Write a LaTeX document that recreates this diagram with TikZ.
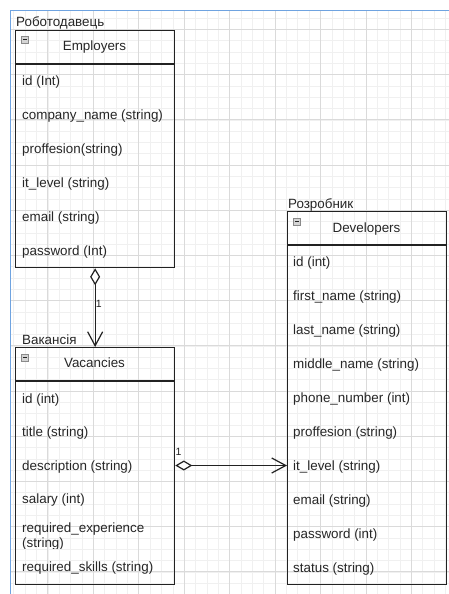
\documentclass[tikz,border=0pt]{standalone}
\usepackage{fontspec}
\setmainfont{Liberation Sans}
\usetikzlibrary{arrows.meta}
\definecolor{linec}{HTML}{222222}
\definecolor{txtc}{HTML}{262626}
\definecolor{gridmajor}{HTML}{DADADA}
\definecolor{gridminor}{HTML}{F0F0F0}
\definecolor{pageblue}{HTML}{6FA3E0}
\definecolor{iconfill}{HTML}{D4D4D4}
\definecolor{icondraw}{HTML}{8A8A8A}
\tikzset{
  tablebox/.style={draw=linec, line width=1.3pt, rectangle, inner sep=0pt, anchor=north west},
  sepline/.style={draw=linec, line width=1.1pt},
  rowtext/.style={anchor=base west, inner sep=0pt, text height=9pt, text depth=0pt, text=txtc, font=\fontsize{13.4}{15}\selectfont},
  titletext/.style={anchor=base, inner sep=0pt, text=txtc, font=\fontsize{13.4}{15}\selectfont},
  tlabel/.style={anchor=base west, inner sep=0pt, text=txtc, font=\fontsize{13.4}{15}\selectfont},
  mult/.style={inner sep=0pt, text=txtc, font=\fontsize{10.5}{12}\selectfont},
  icon/.style={draw=icondraw, fill=iconfill, line width=0.6pt, minimum size=7pt, inner sep=0pt, anchor=north west,
    path picture={\draw[linec, line width=1pt] ([xshift=1.6pt]path picture bounding box.west) -- ([xshift=-1.6pt]path picture bounding box.east);}},
  agg/.style={draw=linec, line width=1.2pt,
    {Diamond[open, fill=white, length=17pt, width=10pt]}-{Straight Barb[length=14pt, width=15pt]}},
  minorgrid/.style={draw=gridminor, line width=0.8pt},
  majorgrid/.style={draw=gridmajor, line width=1pt},
}
\begin{document}
\begin{tikzpicture}[x=1pt,y=-1pt]
\useasboundingbox (0,0) rectangle (449,594);
\fill[white] (0,0) rectangle (449,594);
% grid
\foreach \i in {1,...,39} {
  \pgfmathsetmacro\xx{2.5+11.36*\i}
  \draw[minorgrid] (\xx,10.5) -- (\xx,594);
}
\foreach \i in {-1,...,50} {
  \pgfmathsetmacro\yy{29.5+11.3*\i}
  \draw[minorgrid] (10.5,\yy) -- (449,\yy);
}
\foreach \i in {4,8,...,36} {
  \pgfmathsetmacro\xx{2.5+11.36*\i}
  \draw[majorgrid] (\xx,10.5) -- (\xx,594);
}
\foreach \i in {0,4,...,48} {
  \pgfmathsetmacro\yy{29.5+11.3*\i}
  \draw[majorgrid] (10.5,\yy) -- (449,\yy);
}
% page border
\draw[pageblue, line width=1.6pt] (10.5,594) -- (10.5,10.5) -- (449,10.5);

% ---------- Employers ----------
\node[tlabel] (empL) at (16,27) {Роботодавець};
\node[tablebox, minimum width=159pt, minimum height=237pt] (emp) at (15,30) {};
\draw[sepline] ([yshift=-34pt]emp.north west) -- ([yshift=-34pt]emp.north east);
\node[icon] (empI) at ([xshift=6pt,yshift=-6pt]emp.north west) {};
\node[titletext] (empT) at (94.5,50.5) {Employers};
\node[rowtext] (e1) at (22,85.5) {id (Int)};
\node[rowtext] (e2) at (22,119.5) {company\_name (string)};
\node[rowtext] (e3) at (22,153) {proffesion(string)};
\node[rowtext] (e4) at (22,187) {it\_level (string)};
\node[rowtext] (e5) at (22,221) {email (string)};
\node[rowtext] (e6) at (22,255) {password (Int)};

% ---------- Vacancies ----------
\node[tlabel] (vacL) at (22,344) {Вакансія};
\node[tablebox, minimum width=159pt, minimum height=237pt] (vac) at (15,347) {};
\draw[sepline] ([yshift=-34pt]vac.north west) -- ([yshift=-34pt]vac.north east);
\node[icon] (vacI) at ([xshift=6pt,yshift=-7pt]vac.north west) {};
\node[titletext] (vacT) at (94.5,367.5) {Vacancies};
\node[rowtext] (v1) at (22,403) {id (int)};
\node[rowtext] (v2) at (22,436.5) {title (string)};
\node[rowtext] (v3) at (22,470) {description (string)};
\node[rowtext] (v4) at (22,503.5) {salary (int)};
\node[rowtext] (v5) at (22,532) {required\_experience};
\begin{scope}
  \clip (16,536) rectangle (173,548.5);
  \node[rowtext] (v5b) at (22,547) {(string)};
\end{scope}
\node[rowtext] (v6) at (22,571.5) {required\_skills (string)};

% ---------- Developers ----------
\node[tlabel] (devL) at (288,208.5) {Розробник};
\node[tablebox, minimum width=159pt, minimum height=373pt] (dev) at (287,211) {};
\draw[sepline] ([yshift=-34pt]dev.north west) -- ([yshift=-34pt]dev.north east);
\node[icon] (devI) at ([xshift=6pt,yshift=-7pt]dev.north west) {};
\node[titletext] (devT) at (366.5,232) {Developers};
\node[rowtext] (d1) at (293,266) {id (int)};
\node[rowtext] (d2) at (293,300) {first\_name (string)};
\node[rowtext] (d3) at (293,334) {last\_name (string)};
\node[rowtext] (d4) at (293,368) {middle\_name (string)};
\node[rowtext] (d5) at (293,402) {phone\_number (int)};
\node[rowtext] (d6) at (293,436) {proffesion (string)};
\node[rowtext] (d7) at (293,470) {it\_level (string)};
\node[rowtext] (d8) at (293,504) {email (string)};
\node[rowtext] (d9) at (293,538) {password (int)};
\node[rowtext] (d10) at (293,572) {status (string)};

% ---------- connectors ----------
\draw[agg] (emp.south) -- (vac.north);
\node[mult] (m1) at (98.7,303.5) {1};
\draw[agg] (v3.center -| vac.east) -- (v3.center -| dev.west);
\node[mult] (m2) at (178.5,451.7) {1};
\end{tikzpicture}
\end{document}
